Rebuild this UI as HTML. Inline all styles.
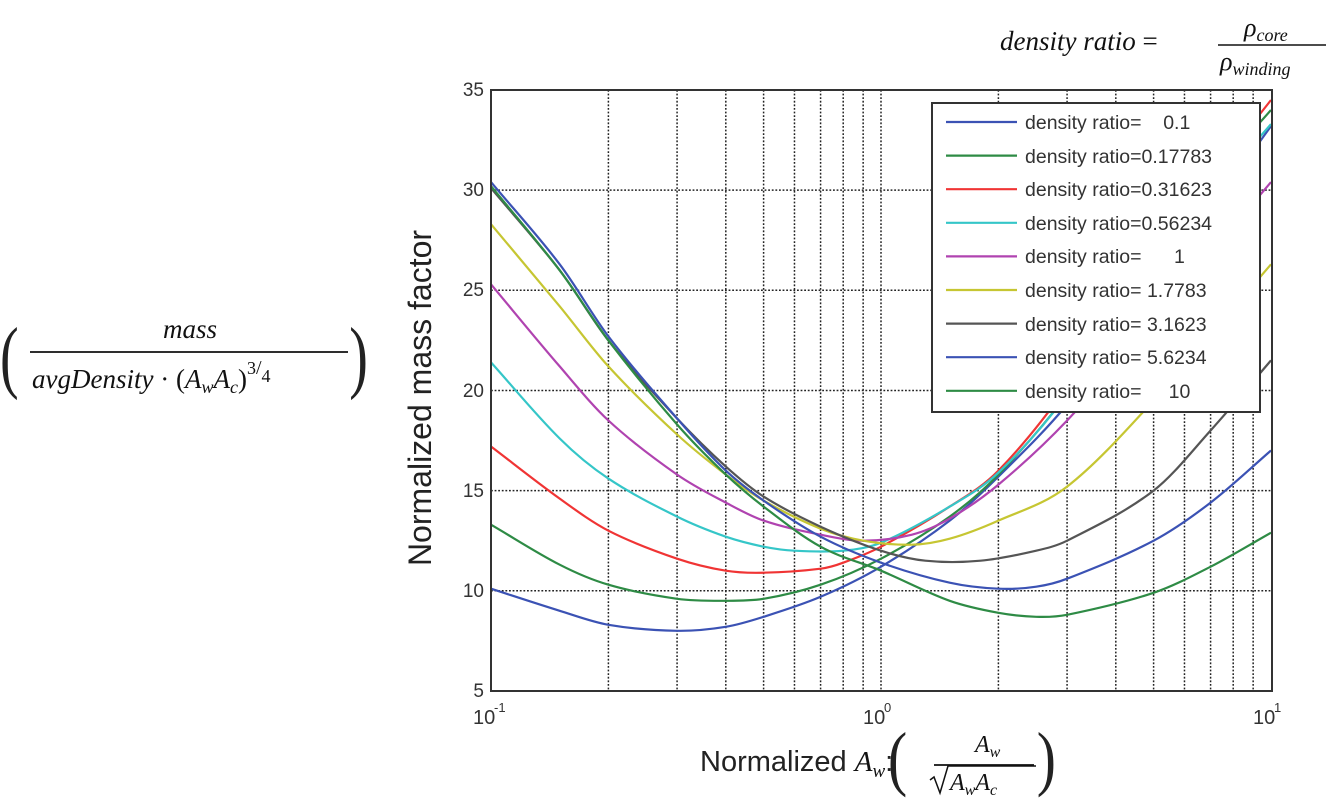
<!DOCTYPE html>
<html><head><meta charset="utf-8"><style>
html,body{margin:0;padding:0;background:#fff;width:1344px;height:804px;overflow:hidden}
svg{display:block}
.t{font-family:"Liberation Sans",sans-serif;fill:#333}
.m{font-family:"Liberation Serif",serif;font-style:italic;fill:#111}
</style></head><body>
<svg id="s" width="1344" height="804" viewBox="0 0 1344 804" xmlns="http://www.w3.org/2000/svg" style="position:absolute;left:0;top:0">
<g id="grid" stroke="#222" stroke-width="1.5" stroke-dasharray="1.8,1.8" fill="none"></g>
<g id="curves" fill="none" stroke-width="2.2" stroke-linejoin="round"></g>
<rect x="491" y="90" width="781" height="601" fill="none" stroke="#333" stroke-width="2"/>
<rect x="932" y="103" width="328" height="309" fill="#fff" stroke="#333" stroke-width="2"/>
<g id="leg"></g>
<g class="t" font-size="19" text-anchor="end">
<text x="484" y="96">35</text><text x="484" y="196">30</text><text x="484" y="296">25</text>
<text x="484" y="397">20</text><text x="484" y="497">15</text><text x="484" y="597">10</text>
<text x="484" y="697">5</text>
</g>
<g class="t" font-size="20">
<text x="473" y="724">10</text><text x="494" y="712" font-size="13">-1</text>
<text x="863" y="724">10</text><text x="884" y="712" font-size="13">0</text>
<text x="1253" y="724">10</text><text x="1274" y="712" font-size="13">1</text>
</g>
<text font-family="Liberation Sans,sans-serif" font-size="32" fill="#222" transform="translate(431,398) rotate(-90)" text-anchor="middle">Normalized mass factor</text>
<text x="700" y="771" font-family="Liberation Sans,sans-serif" font-size="29" fill="#222">Normalized <tspan class="m" font-size="29">A</tspan><tspan class="m" font-size="19" dy="6">w</tspan><tspan dy="-6">:</tspan></text>
<text x="888" y="782" font-family="Liberation Serif,serif" font-size="72" fill="#222" transform="scale(0.8,1) translate(222,0)">(</text>
<text x="975" y="752" class="m" font-size="24">A<tspan font-size="16" dy="5">w</tspan></text>
<line x1="934" y1="765" x2="1034" y2="765" stroke="#111" stroke-width="1.8"/>
<path d="M930 780 l4 -3 l6 16 l8 -27 h88" fill="none" stroke="#111" stroke-width="1.5"/>
<text x="950" y="790" class="m" font-size="24">A<tspan font-size="16" dy="5">w</tspan><tspan dy="-5">A</tspan><tspan font-size="16" dy="5">c</tspan></text>
<text x="1034" y="782" font-family="Liberation Serif,serif" font-size="72" fill="#222" transform="scale(0.8,1) translate(262,0)">)</text>
<text x="0" y="383" font-family="Liberation Serif,serif" font-size="80" fill="#222" transform="scale(0.7,1)">(</text>
<text x="190" y="338" class="m" font-size="27" text-anchor="middle">mass</text>
<line x1="30" y1="352" x2="348" y2="352" stroke="#111" stroke-width="1.8"/>
<text x="32" y="388" class="m" font-size="27">avgDensity  <tspan font-style="normal">·</tspan>  <tspan font-style="normal">(</tspan>A<tspan font-size="18" dy="5">w</tspan><tspan dy="-5">A</tspan><tspan font-size="18" dy="5">c</tspan><tspan dy="-5" font-style="normal">)</tspan><tspan font-size="18" dy="-14" font-style="normal">3</tspan><tspan font-size="20" font-style="normal">/</tspan><tspan font-size="18" dy="8" font-style="normal">4</tspan></text>
<text x="499" y="383" font-family="Liberation Serif,serif" font-size="80" fill="#222" transform="scale(0.7,1)">)</text>
<text x="1000" y="50" class="m" font-size="27">density ratio <tspan font-style="normal">=</tspan></text>
<text x="1244" y="36" class="m" font-size="26">ρ<tspan font-size="18" dy="5">core</tspan></text>
<line x1="1218" y1="45" x2="1326" y2="45" stroke="#111" stroke-width="1.6"/>
<text x="1220" y="70" class="m" font-size="26">ρ<tspan font-size="18" dy="5">winding</tspan></text>
<g font-family="Liberation Sans,sans-serif" font-size="19.5" fill="#333" xml:space="preserve">
<text x="1025" y="129" xml:space="preserve">density ratio=    0.1</text>
<text x="1025" y="163">density ratio=0.17783</text>
<text x="1025" y="196">density ratio=0.31623</text>
<text x="1025" y="230">density ratio=0.56234</text>
<text x="1025" y="263" xml:space="preserve">density ratio=      1</text>
<text x="1025" y="297">density ratio= 1.7783</text>
<text x="1025" y="331">density ratio= 3.1623</text>
<text x="1025" y="364">density ratio= 5.6234</text>
<text x="1025" y="398" xml:space="preserve">density ratio=     10</text>
</g>
</svg>
<script>
var NS="http://www.w3.org/2000/svg";
function X(v){return 491+390*(Math.log10(v)+1);}
function Y(v){return 90+(35-v)*20.03;}
var g=document.getElementById('grid');
function ln(p,x1,y1,x2,y2){var l=document.createElementNS(NS,'line');l.setAttribute('x1',x1);l.setAttribute('y1',y1);l.setAttribute('x2',x2);l.setAttribute('y2',y2);p.appendChild(l);return l;}
[0.2,0.3,0.4,0.5,0.6,0.7,0.8,0.9,1,2,3,4,5,6,7,8,9].forEach(function(v){ln(g,X(v),90,X(v),691);});
[10,15,20,25,30].forEach(function(v){ln(g,491,Y(v),1272,Y(v));});
var C=[
["#3b52b4",[[0.1,10.1],[0.15,9.0],[0.2,8.3],[0.3,8.0],[0.4,8.2],[0.5,8.7],[0.7,9.7],[1,11.2],[1.5,13.5],[2,15.7],[3,19.3],[5,25],[7,29],[10,33.2]]],
["#2e8b45",[[0.1,13.3],[0.15,11.3],[0.2,10.3],[0.3,9.6],[0.4,9.5],[0.5,9.6],[0.7,10.3],[1,11.6],[1.5,13.7],[2,15.8],[3,19.8],[5,26],[7,30.5],[10,34]]],
["#f03434",[[0.1,17.2],[0.15,14.6],[0.2,13.0],[0.3,11.6],[0.4,11.0],[0.5,10.9],[0.7,11.1],[0.8,11.4],[1,12.2],[1.5,14.2],[2,16],[3,20.2],[5,27],[10,34.5]]],
["#35c6c8",[[0.1,21.4],[0.15,17.6],[0.2,15.6],[0.3,13.7],[0.4,12.7],[0.5,12.2],[0.6,12.0],[0.8,12.0],[1,12.4],[1.5,14.2],[2,15.9],[3,19.8],[5,26.5],[10,33.3]]],
["#b043b0",[[0.1,25.3],[0.15,21.2],[0.2,18.5],[0.3,15.8],[0.4,14.4],[0.5,13.5],[0.7,12.8],[0.9,12.5],[1.2,12.8],[1.5,13.6],[2,15.3],[3,18.5],[5,23.5],[10,30.4]]],
["#c6c632",[[0.1,28.3],[0.15,24.2],[0.2,21.2],[0.3,17.8],[0.4,15.8],[0.5,14.5],[0.7,13.1],[0.9,12.5],[1.2,12.3],[1.5,12.6],[2,13.5],[3,15.2],[5,19.5],[10,26.3]]],
["#555555",[[0.1,30.1],[0.15,26],[0.2,22.5],[0.3,18.6],[0.4,16.2],[0.5,14.7],[0.7,13.2],[1,12],[1.3,11.5],[1.8,11.5],[2.5,12],[3,12.5],[5,15],[7,18],[10,21.5]]],
["#3b52b4",[[0.1,30.4],[0.15,26.3],[0.2,22.7],[0.3,18.6],[0.4,16],[0.5,14.5],[0.7,12.7],[1,11.4],[1.5,10.4],[2,10.1],[2.5,10.2],[3,10.6],[5,12.5],[7,14.4],[10,17]]],
["#2e8b45",[[0.1,30.2],[0.15,26],[0.2,22.5],[0.3,18.3],[0.4,15.8],[0.5,14.2],[0.7,12.2],[1,11.0],[1.5,9.5],[2,8.9],[2.5,8.7],[3,8.8],[5,9.9],[7,11.2],[10,12.9]]]
];
var cg=document.getElementById('curves'),lg=document.getElementById('leg');
C.forEach(function(c,i){
 var p=c[1].map(function(q){return [X(q[0]),Y(q[1])];});
 var n=p.length,m=[];
 for(var k=0;k<n;k++){
  var a=p[Math.max(0,k-1)],b=p[Math.min(n-1,k+1)];
  m.push((b[1]-a[1])/(b[0]-a[0]));
 }
 var d="M"+p[0][0].toFixed(1)+" "+p[0][1].toFixed(1);
 for(var k=0;k<n-1;k++){
  var h=(p[k+1][0]-p[k][0])/3;
  d+=" C"+(p[k][0]+h).toFixed(1)+" "+(p[k][1]+m[k]*h).toFixed(1)+" "+(p[k+1][0]-h).toFixed(1)+" "+(p[k+1][1]-m[k+1]*h).toFixed(1)+" "+p[k+1][0].toFixed(1)+" "+p[k+1][1].toFixed(1);
 }
 var e=document.createElementNS(NS,'path');e.setAttribute('d',d);e.setAttribute('stroke',c[0]);cg.appendChild(e);
 var y=122+i*33.6;
 var l=ln(lg,946,y,1017,y);l.setAttribute('stroke',c[0]);l.setAttribute('stroke-width','2.2');
});
</script>
</body></html>
